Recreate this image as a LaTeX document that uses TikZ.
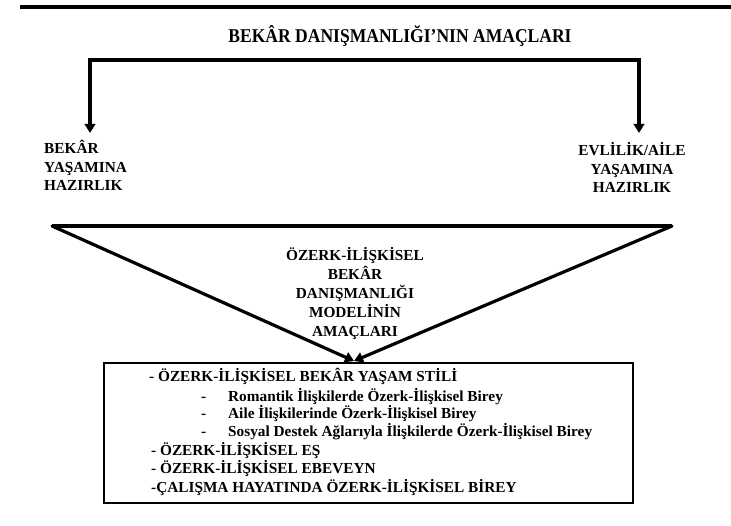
\documentclass[tikz,border=0pt]{standalone}
\usepackage{fontspec}
\setmainfont{Liberation Serif}
\usetikzlibrary{arrows.meta}
\tikzset{
  txt/.style={inner sep=0pt, font=\bfseries\fontsize{15.3}{18}\selectfont},
  thick line/.style={line width=3.2pt},
  arr/.style={-{Triangle[length=9pt,width=10.5pt]}},
}
\begin{document}
\begin{tikzpicture}[x=1pt,y=-1pt]
\useasboundingbox (0,0) rectangle (731,526);
% top rule
\coordinate (r1) at (20,7);
\coordinate (r2) at (731,7);
\draw[line width=3.6pt] (r1) -- (r2);
% title
\node[txt, anchor=base, font=\bfseries\fontsize{19.5}{22}\selectfont] (title) at (400,43)
  {\scalebox{0.9}[1]{BEKÂR DANIŞMANLIĞI’NIN AMAÇLARI}};
% split connector
\coordinate (hl) at (90,60);
\coordinate (hr) at (639,60);
\coordinate (la) at (90,133);
\coordinate (ra) at (639,133);
\draw[thick line, arr, line join=miter] (hr) -- (hl) -- (la);
\draw[thick line, arr, line join=miter] (hl) -- (hr) -- (ra);
% left text
\node[txt, anchor=base west] (l1) at (44,154) {BEKÂR};
\node[txt, anchor=base west] (l2) at (44,172.5) {YAŞAMINA};
\node[txt, anchor=base west] (l3) at (44,191) {HAZIRLIK};
% right text
\node[txt, anchor=base] (r1t) at (632,156) {EVLİLİK/AİLE};
\node[txt, anchor=base] (r2t) at (632,174.5) {YAŞAMINA};
\node[txt, anchor=base] (r3t) at (632,193) {HAZIRLIK};
% triangle
\coordinate (tl) at (52,226);
\coordinate (tr) at (672,226);
\coordinate (apex) at (354,361);
\draw[thick line] (tl) -- (tr);
\draw[thick line, arr, line cap=round] (tl) -- (apex);
\draw[thick line, arr, line cap=round] (tr) -- (apex);
% middle text
\node[txt, anchor=base] (m1) at (355,260.5) {ÖZERK-İLİŞKİSEL};
\node[txt, anchor=base] (m2) at (355,279.5) {BEKÂR};
\node[txt, anchor=base] (m3) at (355,298.5) {DANIŞMANLIĞI};
\node[txt, anchor=base] (m4) at (355,317.5) {MODELİNİN};
\node[txt, anchor=base] (m5) at (355,336.5) {AMAÇLARI};
% box
\node[draw, line width=2pt, inner sep=0pt, minimum width=529pt, minimum height=140pt, anchor=north west] (box) at (103,362) {};
\node[txt, anchor=base west] (b1) at (149,382) {- ÖZERK-İLİŞKİSEL BEKÂR YAŞAM STİLİ};
\node[txt, anchor=base west] (d2) at (201,401.5) {-};
\node[txt, anchor=base west] (b2) at (228,401.5) {Romantik İlişkilerde Özerk-İlişkisel Birey};
\node[txt, anchor=base west] (d3) at (201,418) {-};
\node[txt, anchor=base west] (b3) at (228,418) {Aile İlişkilerinde Özerk-İlişkisel Birey};
\node[txt, anchor=base west] (d4) at (201,436) {-};
\node[txt, anchor=base west] (b4) at (228,436) {Sosyal Destek Ağlarıyla İlişkilerde Özerk-İlişkisel Birey};
\node[txt, anchor=base west] (b5) at (151,455) {- ÖZERK-İLİŞKİSEL EŞ};
\node[txt, anchor=base west] (b6) at (151,473) {- ÖZERK-İLİŞKİSEL EBEVEYN};
\node[txt, anchor=base west] (b7) at (151,492) {-ÇALIŞMA HAYATINDA ÖZERK-İLİŞKİSEL BİREY};
\end{tikzpicture}
\end{document}
